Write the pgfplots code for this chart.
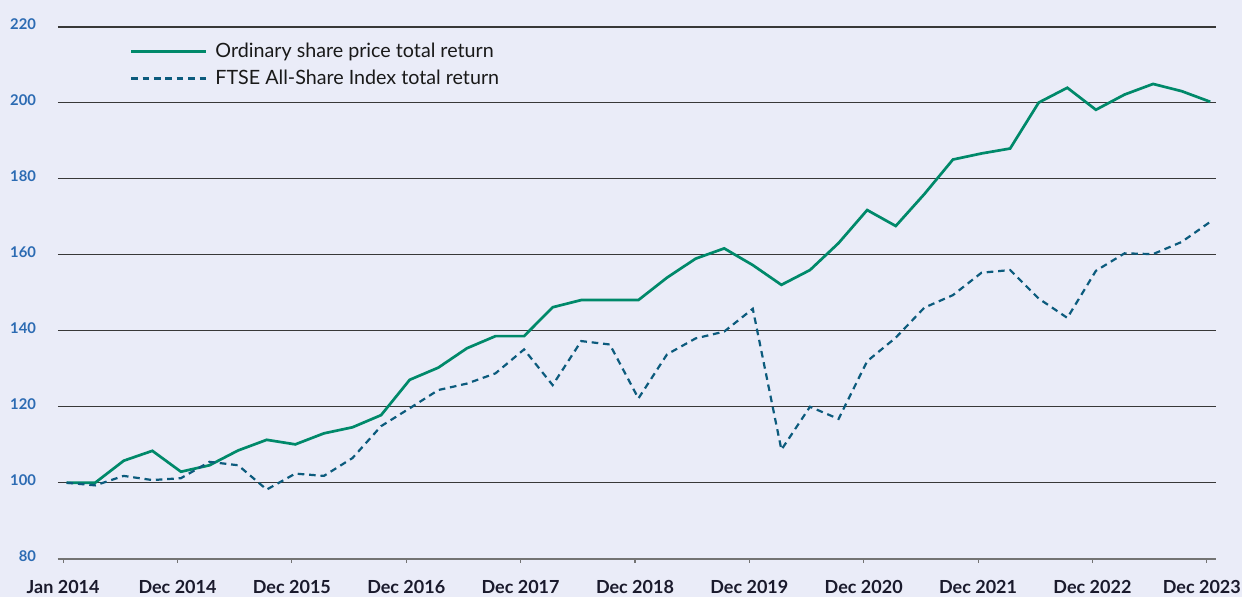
\documentclass[border=0pt]{standalone}
\usepackage{fontspec}
\setmainfont{Lato}
\usepackage{pgfplots}
\usepackage{pgfplotstable}
\pgfplotsset{compat=1.18}
\definecolor{bg}{HTML}{EAECF8}
\definecolor{sharegreen}{HTML}{00896A}
\definecolor{ftseblue}{HTML}{0C5B7D}
\definecolor{ylab}{HTML}{2C6BB3}
\definecolor{xlab}{HTML}{1A1A2C}
\pgfplotstableread{
x y
0 100.0
1 100.0
2 105.8
3 108.4
4 102.9
5 104.6
6 108.5
7 111.3
8 110.1
9 113.0
10 114.6
11 117.8
12 127.1
13 130.3
14 135.4
15 138.6
16 138.6
17 146.2
18 148.1
19 148.1
20 148.1
21 154.0
22 159.0
23 161.7
24 157.3
25 152.1
26 156.0
27 163.1
28 171.8
29 167.6
30 176.0
31 185.1
32 186.7
33 188.0
34 200.1
35 204.0
36 198.2
37 202.2
38 205.0
39 203.1
40 200.3
}\sharedata
\pgfplotstableread{
x y
0 100.0
1 99.3
2 101.8
3 100.7
4 101.2
5 105.5
6 104.6
7 98.2
8 102.4
9 101.8
10 106.5
11 114.9
12 119.6
13 124.4
14 126.1
15 128.8
16 135.1
17 125.7
18 137.3
19 136.4
20 122.2
21 133.8
22 138.0
23 139.8
24 145.8
25 108.7
26 120.0
27 116.8
28 132.0
29 138.2
30 146.1
31 149.4
32 155.3
33 156.0
34 148.5
35 143.4
36 155.8
37 160.4
38 160.2
39 163.4
40 168.7
}\ftsedata
\begin{document}
\begin{tikzpicture}
\fill[bg] (-29pt,-19.15pt) rectangle (592pt,279.35pt);
\useasboundingbox (-29pt,-19.15pt) rectangle (592pt,279.35pt);
\begin{axis}[
  scale only axis,
  width=578.85pt, height=265.85pt,
  xmin=-0.3, xmax=40.19, ymin=80, ymax=220,
  axis x line*=bottom, axis y line*=left,
  x axis line style={draw=black!55, line width=1pt, -},
  y axis line style={draw=none},
  ytick={80,100,...,220},
  xtick={-0.12,3.88,7.88,11.88,15.88,19.88,23.88,27.88,31.88,35.88,39.88},
  xticklabels={Jan 2014,Dec 2014,Dec 2015,Dec 2016,Dec 2017,Dec 2018,Dec 2019,Dec 2020,Dec 2021,Dec 2022,\hspace*{-5pt}Dec 2023},
  ymajorgrids,
  major grid style={draw=black!78, line width=0.55pt},
  ytick style={draw=none},
  xtick style={draw=black!55, line width=0.6pt},
  tick align=outside,
  major tick length=2pt,
  /pgf/number format/assume math mode=true,
  yticklabel style={font=\bfseries\fontsize{7.4}{9}\selectfont, text=ylab, anchor=east, xshift=-5.5pt, yshift=1.5pt},
  xticklabel style={font=\bfseries\fontsize{9}{10}\selectfont, text=xlab, anchor=north, yshift=-5.5pt},
  legend style={draw=none, fill=none, at={(0.062,0.978)}, anchor=north west,
    font=\fontsize{9.85}{12}\selectfont, text=black!90, row sep=0.8pt,
    inner sep=0pt, outer sep=0pt, nodes={inner xsep=4pt}},
  legend cell align=left,
  legend image code/.code={\draw[#1] (0pt,0pt) -- (37.5pt,0pt);},
]
\addplot[sharegreen, line width=1.35pt] table[x=x,y=y] {\sharedata};
\addlegendentry{Ordinary share price total return}
\addplot[ftseblue, line width=1.1pt, dash pattern=on 3.3pt off 2.4pt] table[x=x,y=y] {\ftsedata};
\addlegendentry{FTSE All-Share Index total return}
\end{axis}
\end{tikzpicture}
\end{document}
